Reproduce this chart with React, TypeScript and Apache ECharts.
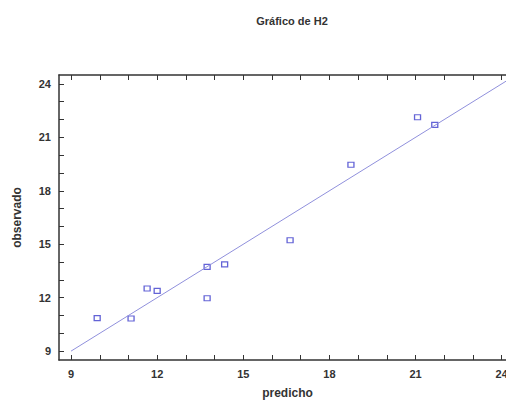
import React, { useEffect, useRef } from "react";
import * as echarts from "echarts";

const predicho = [9.91, 11.09, 11.65, 12.0, 13.74, 13.74, 14.35, 16.63, 18.75, 21.07, 21.67];
const observado = [10.85, 10.83, 12.51, 12.38, 13.73, 11.97, 13.87, 15.22, 19.46, 22.13, 21.7];
const fitLineX = [9, 24.5];
const xTickLabels = [9, 12, 15, 18, 21, 24];
const yTickLabels = [9, 12, 15, 18, 21, 24];
const minorTicks = [9, 10, 11, 12, 13, 14, 15, 16, 17, 18, 19, 20, 21, 22, 23, 24];

export default function App() {
  const ref = useRef<HTMLDivElement>(null);
  useEffect(() => {
    if (!ref.current) return;
    const chart = echarts.init(ref.current, undefined, { renderer: "svg" });
    const font = "Liberation Sans";
    const axisLine = { show: true, lineStyle: { color: "#333", width: 1.5 } };
    const labelStyle = { fontFamily: font, fontWeight: "bold" as const, fontSize: 11, color: "#333" };
    chart.setOption({
      animation: false,
      backgroundColor: "#fff",
      title: {
        text: "Gráfico de H2",
        left: 287,
        top: 10,
        textAlign: "center",
        textStyle: { fontFamily: font, fontWeight: "bold", fontSize: 11, color: "#333" },
      },
      grid: { left: 59, top: 75, right: 4, bottom: 43, containLabel: false },
      xAxis: [
        {
          type: "value",
          min: 8.58,
          max: 24.5,
          position: "bottom",
          name: "predicho",
          nameLocation: "middle",
          nameGap: 27,
          nameTextStyle: { fontFamily: font, fontWeight: "bold", fontSize: 12, color: "#333", padding: [0, 0, 0, 0] },
          axisLine,
          axisTick: { show: true, inside: true, length: 5, customValues: minorTicks, lineStyle: { color: "#333" } },
          axisLabel: { ...labelStyle, margin: 8, customValues: xTickLabels },
          splitLine: { show: false },
        },
        {
          type: "value",
          min: 8.58,
          max: 24.5,
          position: "top",
          axisLine,
          axisTick: { show: true, inside: true, length: 5, customValues: minorTicks, lineStyle: { color: "#333" } },
          axisLabel: { show: false },
          splitLine: { show: false },
        },
      ],
      yAxis: [
        {
          type: "value",
          min: 8.5,
          max: 24.5,
          position: "left",
          name: "observado",
          nameLocation: "middle",
          nameGap: 36,
          nameTextStyle: { fontFamily: font, fontWeight: "bold", fontSize: 12, color: "#333" },
          axisLine,
          axisTick: { show: true, inside: true, length: 5, customValues: minorTicks, lineStyle: { color: "#333" } },
          axisLabel: { ...labelStyle, margin: 8, customValues: yTickLabels },
          splitLine: { show: false },
        },
      ],
      series: [
        {
          type: "line",
          xAxisIndex: 0,
          yAxisIndex: 0,
          data: fitLineX.map((v) => [v, v]),
          showSymbol: false,
          symbol: "none",
          lineStyle: { color: "#9090dc", width: 1 },
          silent: true,
        },
        {
          type: "scatter",
          xAxisIndex: 0,
          yAxisIndex: 0,
          data: predicho.map((x, i) => [x, observado[i]]),
          symbol: "rect",
          symbolSize: [6, 5],
          itemStyle: { color: "#fff", borderColor: "#3c3ccc", borderWidth: 1.2 },
        },
      ],
    });
    return () => chart.dispose();
  }, []);
  return (
    <div style={{ width: 506, height: 404, position: "absolute", left: 0, top: 0, overflow: "hidden", background: "#fff" }}>
      <div ref={ref} style={{ width: 520, height: 404 }} />
    </div>
  );
}
